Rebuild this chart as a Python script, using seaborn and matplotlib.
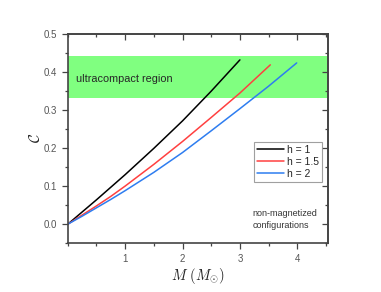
import pandas as pd
import matplotlib
matplotlib.use("Agg")
import matplotlib.pyplot as plt
import seaborn as sns
from matplotlib.ticker import MultipleLocator, FixedLocator

# mass M (M_sun) vs compactness C
mass_h1 = [0.0, 0.25, 0.5, 0.75, 1.0, 1.5, 2.0, 2.5, 3.0]
comp_h1 = [0.0, 0.032, 0.064, 0.097, 0.13, 0.199, 0.271, 0.349, 0.431]

mass_h15 = [0.0, 0.25, 0.5, 0.75, 1.0, 1.5, 2.0, 2.5, 3.0, 3.53]
comp_h15 = [0.0, 0.024, 0.048, 0.073, 0.1, 0.157, 0.217, 0.28, 0.344, 0.418]

mass_h2 = [0.0, 0.25, 0.5, 0.75, 1.0, 1.5, 2.0, 2.5, 3.0, 3.5, 3.99]
comp_h2 = [0.0, 0.021, 0.043, 0.065, 0.088, 0.136, 0.188, 0.245, 0.303, 0.362, 0.423]

labels = ["h = 1", "h = 1.5", "h = 2"]
colors = ["black", "#ff4040", "#2e7df0"]

band = (0.33, 0.44)

df = pd.concat([
    pd.DataFrame({"M": mass_h1, "C": comp_h1, "h": labels[0]}),
    pd.DataFrame({"M": mass_h15, "C": comp_h15, "h": labels[1]}),
    pd.DataFrame({"M": mass_h2, "C": comp_h2, "h": labels[2]}),
])

sns.set_style("ticks")
plt.rcParams["font.family"] = ["Liberation Sans", "DejaVu Sans"]
plt.rcParams["mathtext.fontset"] = "cm"

fig = plt.figure(figsize=(3.81, 2.92), dpi=100)
ax = fig.add_axes([0.178, 0.167, 0.682, 0.718])

ax.axhspan(band[0], band[1], color="#80ff80", lw=0, zorder=0)

sns.lineplot(data=df, x="M", y="C", hue="h", palette=colors, sort=False,
             estimator=None, lw=1.1, ax=ax)

ax.set_xlim(0, 4.53)
ax.set_ylim(-0.05, 0.5)
ax.xaxis.set_major_locator(FixedLocator([1, 2, 3, 4]))
ax.xaxis.set_minor_locator(MultipleLocator(0.5))
ax.yaxis.set_major_locator(MultipleLocator(0.1))
ax.yaxis.set_minor_locator(MultipleLocator(0.05))
ax.tick_params(which="both", direction="out", color="#444", width=0.9,
               labelsize=7, labelcolor="#555")
ax.tick_params(which="major", length=4)
ax.tick_params(which="minor", length=2.5)

# mirrored ticks on top and right, pointing inwards
for side in ["top", "right"]:
    sec = ax.secondary_xaxis("top") if side == "top" else ax.secondary_yaxis("right")
    axis = sec.xaxis if side == "top" else sec.yaxis
    if side == "top":
        axis.set_major_locator(FixedLocator([1, 2, 3, 4]))
        axis.set_minor_locator(MultipleLocator(0.5))
    else:
        axis.set_major_locator(MultipleLocator(0.1))
        axis.set_minor_locator(MultipleLocator(0.05))
    sec.tick_params(which="both", direction="in", color="#444", width=0.9,
                    labelleft=False, labelright=False, labeltop=False)
    sec.tick_params(which="major", length=4)
    sec.tick_params(which="minor", length=2.5)
    for sp in sec.spines.values():
        sp.set_color("#444")
        sp.set_linewidth(1.2)

for sp in ax.spines.values():
    sp.set_color("#444")
    sp.set_linewidth(1.2)

ax.set_xlabel(r"$M\ (M_{\odot})$", fontsize=10.5, color="#222", labelpad=2)
ax.set_ylabel(r"$\mathcal{C}$", fontsize=11, color="#222", labelpad=1)

ax.text(0.14, 0.38, "ultracompact region", fontsize=7.8, va="center")
ax.text(3.22, 0.012, "non-magnetized\nconfigurations", fontsize=6.5,
        color="#333", va="center", linespacing=1.45)

leg = ax.legend(loc="upper left", bbox_to_anchor=(0.716, 0.485), fontsize=7.5,
                handlelength=2.6, handletextpad=0.3, borderpad=0.3,
                borderaxespad=0, labelspacing=0.2, fancybox=False, frameon=True)
leg.get_frame().set_edgecolor("#888")
leg.get_frame().set_linewidth(0.8)

fig.savefig("out.png", dpi=100)
